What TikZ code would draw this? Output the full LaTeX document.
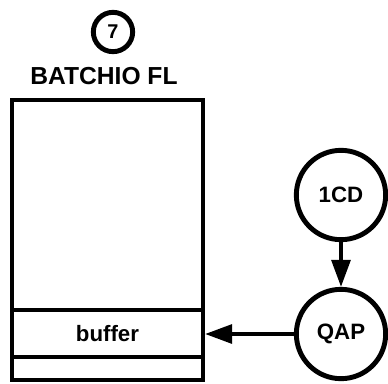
\documentclass[tikz,border=0pt]{standalone}
\usepackage{fontspec}
\setmainfont{Liberation Sans}
\usetikzlibrary{arrows.meta,positioning}

\tikzset{
  proc/.style={draw, circle, line width=4.2pt, minimum size=2.68cm, inner sep=0pt, font=\bfseries\fontsize{19}{19}\selectfont},
  filebox/.style={draw, rectangle, line width=3.6pt, minimum width=5.73cm},
  flow/.style={-{Triangle[length=23pt, width=16pt]}, line width=3.2pt}
}

\begin{document}
\begin{tikzpicture}[x=0.03cm, y=-0.03cm]
        \useasboundingbox (0,0) rectangle (388,383);
        % Nodes
        \node (num) [draw, circle, line width=4.2pt, minimum size=1.18cm, inner sep=0pt, font=\bfseries\fontsize{17}{17}\selectfont] at (113,32) {7};
        \node (title) [font=\bfseries\fontsize{21}{21}\selectfont] at (104,76) {BATCHIO FL};
        \node (file) [filebox, minimum height=8.4cm] at (107.5,240) {};
        \node (buffer) [filebox, minimum height=1.41cm, font=\bfseries\fontsize{19}{19}\selectfont] at (107.5,333.5) {buffer};
        \node (icd) [proc] at (341,195) {1CD};
        \node (qap) [proc] at (341,334) {QAP};

        % Connectors
        \draw [flow] (icd) -- (qap);
        \draw [flow] (qap.west) -- (qap.west -| buffer.east);
\end{tikzpicture}
\end{document}
